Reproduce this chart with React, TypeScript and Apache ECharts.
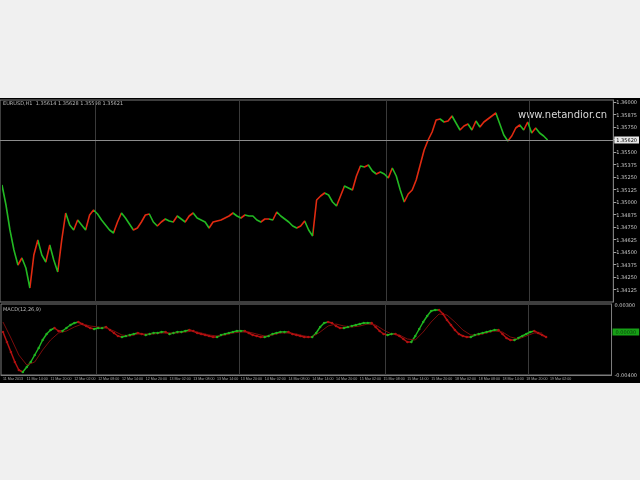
import React, { useEffect, useRef } from "react";
import * as echarts from "echarts";

// ---- price data (closes, one bar every 4px) ----
const closes = [
  1.3517, 1.3497, 1.3472, 1.3452, 1.3437, 1.3444, 1.3434, 1.3414, 1.3447, 1.3462,
  1.3447, 1.344, 1.3457, 1.3442, 1.343, 1.3462, 1.3489, 1.3477, 1.3472, 1.3482,
  1.3477, 1.3472, 1.3487, 1.3492, 1.3488, 1.3482, 1.3477, 1.3472, 1.3469, 1.348,
  1.3489, 1.3484, 1.3478, 1.3472, 1.3474, 1.348, 1.3487, 1.3488, 1.348, 1.3476,
  1.348, 1.3483, 1.3481, 1.348, 1.3486, 1.3483, 1.348, 1.3486, 1.3489, 1.3484,
  1.3482, 1.348, 1.3474, 1.348, 1.3481, 1.3482, 1.3484, 1.3486, 1.3489, 1.3486,
  1.3484, 1.3487, 1.3486, 1.3486, 1.3482, 1.348, 1.3483, 1.3483, 1.3482, 1.349,
  1.3486, 1.3483, 1.348, 1.3476, 1.3474, 1.3476, 1.3481, 1.3472, 1.3466, 1.3502,
  1.3506, 1.3509, 1.3507, 1.35, 1.3496, 1.3506, 1.3516, 1.3514, 1.3512, 1.3526,
  1.3536, 1.3535, 1.3537, 1.3531, 1.3528, 1.353, 1.3528, 1.3524, 1.3534, 1.3526,
  1.3512, 1.35, 1.3508, 1.3512, 1.3522, 1.3537, 1.3552, 1.3562, 1.357, 1.3582,
  1.3583, 1.358, 1.3581, 1.3586, 1.3579, 1.3572, 1.3576, 1.3578, 1.3572, 1.3581,
  1.3575, 1.358, 1.3583, 1.3586, 1.3589, 1.3578, 1.3567, 1.3561, 1.3566, 1.3574,
  1.3577, 1.3572, 1.358, 1.3569, 1.3574, 1.3569, 1.3566, 1.3562,
];

// ---- indicator (main line, one point every 4px; signal, one point every 8px) ----
const macdMain = [
  0.0003, -0.0007, -0.0017, -0.0027, -0.0035, -0.0037, -0.0032, -0.0027, -0.002, -0.0013,
  -0.0005, 0.0001, 0.0005, 0.0007, 0.0004, 0.0004, 0.0007, 0.001, 0.0012, 0.0013,
  0.0011, 0.0009, 0.0007, 0.0006, 0.0007, 0.0007, 0.0008, 0.0005, 0.0002, -0.0001,
  -0.0002, -0.0001, 0.0, 0.0001, 0.0002, 0.0001, 0.0, 0.0001, 0.0002, 0.0002,
  0.0003, 0.0003, 0.0001, 0.0002, 0.0003, 0.0003, 0.0004, 0.0005, 0.0004, 0.0002,
  0.0001, 0.0, -0.0001, -0.0002, -0.0002, 0.0, 0.0001, 0.0002, 0.0003, 0.0004,
  0.0004, 0.0004, 0.0002, 0.0, -0.0001, -0.0002, -0.0002, -0.0001, 0.0001, 0.0002,
  0.0003, 0.0003, 0.0003, 0.0001, 0.0, -0.0001, -0.0002, -0.0002, -0.0002, 0.0002,
  0.0008, 0.0012, 0.0013, 0.0012, 0.0009, 0.0007, 0.0007, 0.0008, 0.0009, 0.001,
  0.0011, 0.0012, 0.0012, 0.0012, 0.0008, 0.0004, 0.0001, 0.0, 0.0001, 0.0001,
  -0.0001, -0.0004, -0.0007, -0.0007, -0.0001, 0.0006, 0.0013, 0.0019, 0.0024, 0.0025,
  0.0025, 0.0021, 0.0015, 0.001, 0.0005, 0.0001, -0.0001, -0.0002, -0.0002, 0.0,
  0.0001, 0.0002, 0.0003, 0.0004, 0.0005, 0.0005, 0.0001, -0.0003, -0.0005, -0.0005,
  -0.0003, -0.0001, 0.0001, 0.0003, 0.0004, 0.0002, 0.0, -0.0002,
];
const macdSignal = [
  0.0013, -0.0003, -0.002, -0.003, -0.0027, -0.0015, -0.0005, 0.0002, 0.0004, 0.0008,
  0.0011, 0.0009, 0.0008, 0.0007, 0.0004, 0.0, -0.0001, 0.0001, 0.0001, 0.0001,
  0.0002, 0.0002, 0.0002, 0.0003, 0.0004, 0.0002, 0.0, -0.0001, 0.0, 0.0002,
  0.0003, 0.0003, 0.0001, -0.0001, 0.0, 0.0002, 0.0002, 0.0001, -0.0001, -0.0002,
  0.0003, 0.0009, 0.0011, 0.0009, 0.0008, 0.0009, 0.0011, 0.001, 0.0005, 0.0001,
  0.0, -0.0004, -0.0005, 0.0003, 0.0013, 0.0021, 0.002, 0.0013, 0.0005, 0.0,
  0.0, 0.0002, 0.0004, 0.0003, -0.0002, -0.0004, -0.0001, 0.0002, 0.0002,
];
const macdLevel = 0.0003;

// ---- axes / texts ----
const timeLabels = [
  "11 Mar 2013", "11 Mar 14:00", "11 Mar 20:00", "12 Mar 02:00", "12 Mar 08:00", "12 Mar 14:00",
  "12 Mar 20:00", "13 Mar 02:00", "13 Mar 08:00", "13 Mar 14:00", "13 Mar 20:00", "14 Mar 02:00",
  "14 Mar 08:00", "14 Mar 14:00", "14 Mar 20:00", "15 Mar 02:00", "15 Mar 08:00", "15 Mar 14:00",
  "15 Mar 20:00", "18 Mar 02:00", "18 Mar 08:00", "18 Mar 14:00", "18 Mar 20:00", "19 Mar 02:00",
];
const dayBreaks = [24, 60, 97, 133];
const TOTAL_BARS = 154;
const priceMin = 1.34;
const priceMax = 1.3602;
const priceStep = 0.00125;
const macdMin = -0.004;
const macdMax = 0.0031;
const macdStep = 0.001;
const headerText = "EURUSD,H1  1.35614 1.35628 1.35598 1.35621";
const indicatorTitle = "MACD(12,26,9)";
const watermark = "www.netandior.cn";

const UP = "#e02a10";
const DOWN = "#22b822";
const IND_UP = "#1fb41f";
const IND_DOWN = "#b01010";

function directionPieces(values: number[], upColor: string, downColor: string) {
  const pieces: any[] = [];
  let runStart = 0;
  let runUp = values[1] > values[0];
  for (let i = 1; i < values.length; i++) {
    const d = values[i] - values[i - 1];
    const up = d > 0 ? true : d < 0 ? false : runUp;
    if (up !== runUp) {
      pieces.push({ gte: runStart, lt: i - 1, color: runUp ? upColor : downColor });
      runStart = i - 1;
      runUp = up;
    }
  }
  pieces.push({ gte: runStart, lte: TOTAL_BARS, color: runUp ? upColor : downColor });
  return pieces;
}

function buildOption() {
  const cats = Array.from({ length: TOTAL_BARS }, (_, i) => String(i));
  const last = closes[closes.length - 1];

  const sig: (number | null)[] = macdMain.map(() => null);
  macdSignal.forEach((v, i) => {
    if (2 * i < sig.length) sig[2 * i] = v;
  });

  const splitFn = (idx: number) => dayBreaks.includes(idx);
  const font = "DejaVu Sans";

  return {
    animation: false,
    backgroundColor: "#f0f0f0",
    textStyle: { fontFamily: font },
    graphic: [
      { type: "rect", z: -100, silent: true, shape: { x: 0, y: 98, width: 640, height: 285 }, style: { fill: "#000" } },
      { type: "text", left: 3, top: 100, style: { text: headerText, fill: "#b8b8b8", fontSize: 5, fontFamily: font } },
      { type: "text", left: 3, top: 306, style: { text: indicatorTitle, fill: "#b8b8b8", fontSize: 5, fontFamily: font } },
      { type: "text", left: 518, top: 109, style: { text: watermark, fill: "#d8d8d8", fontSize: 10, fontFamily: font } },
    ],
    grid: [
      { left: 0, top: 100, width: 616, height: 202, show: true, borderColor: "#7c7c7c", borderWidth: 1, backgroundColor: "transparent" },
      { left: 0, top: 304, width: 616, height: 71, show: true, borderColor: "#7c7c7c", borderWidth: 1, backgroundColor: "transparent" },
    ],
    xAxis: [
      {
        type: "category", gridIndex: 0, data: cats, boundaryGap: true,
        axisLine: { show: false, onZero: false }, axisTick: { show: false }, axisLabel: { show: false },
        splitLine: { show: true, interval: splitFn, lineStyle: { color: "#3a3a3a", width: 1 } },
      },
      {
        type: "category", gridIndex: 1, data: cats, boundaryGap: true,
        axisLine: { show: true, onZero: false, lineStyle: { color: "#7c7c7c" } }, axisTick: { show: false },
        axisLabel: {
          show: true, interval: 5, fontSize: 3.6, fontFamily: "Liberation Sans", color: "#a8a8a8", align: "left", margin: 2,
          formatter: (_v: string, idx: number) => timeLabels[idx / 6] ?? "",
        },
        splitLine: { show: true, interval: splitFn, lineStyle: { color: "#3a3a3a", width: 1 } },
      },
    ],
    yAxis: [
      {
        type: "value", gridIndex: 0, position: "right", min: priceMin, max: priceMax, interval: priceStep,
        axisLine: { show: true, lineStyle: { color: "#7c7c7c" } },
        axisTick: { show: true, length: 3, lineStyle: { color: "#a0a0a0" } },
        axisLabel: {
          fontSize: 5, color: "#c8c8c8", margin: 3, showMinLabel: false,
          formatter: (v: number) => (Math.abs(v - last) < 0.0008 || v <= priceMin + 1e-9 ? "" : v.toFixed(5)),
        },
        splitLine: { show: false },
      },
      {
        type: "value", gridIndex: 1, position: "right", min: macdMin, max: macdMax, interval: macdStep,
        axisLine: { show: true, lineStyle: { color: "#7c7c7c" } },
        axisTick: { show: false },
        axisLabel: {
          fontSize: 5, color: "#c8c8c8", margin: 3,
          formatter: (v: number) => (Math.abs(v - macdMin) < 1e-9 || Math.abs(v - 0.003) < 1e-9 ? v.toFixed(5) : ""),
        },
        splitLine: { show: false },
      },
    ],
    visualMap: [
      { type: "piecewise", show: false, dimension: 0, seriesIndex: 0, pieces: directionPieces(closes, UP, DOWN) },
      { type: "piecewise", show: false, dimension: 0, seriesIndex: 1, pieces: directionPieces(macdMain, IND_UP, IND_DOWN) },
    ],
    series: [
      {
        type: "line", xAxisIndex: 0, yAxisIndex: 0, data: closes, showSymbol: false,
        lineStyle: { width: 1.6 },
        markLine: {
          silent: true, symbol: ["none", "none"], precision: 5,
          data: [{ yAxis: last }],
          lineStyle: { color: "#8c8c8c", width: 1, type: "solid" },
          label: {
            position: "end", distance: 1, fontSize: 5, color: "#000", backgroundColor: "#e8e8e8", padding: [1, 2],
            formatter: (p: any) => Number(p.value).toFixed(5),
          },
        },
      },
      {
        type: "line", xAxisIndex: 1, yAxisIndex: 1, data: macdMain,
        showSymbol: true, symbol: "circle", symbolSize: 2.5,
        lineStyle: { width: 1.5 },
      },
      {
        type: "line", xAxisIndex: 1, yAxisIndex: 1, data: sig, connectNulls: true, showSymbol: false,
        lineStyle: { width: 1, color: "#7a0c0c" }, itemStyle: { color: "#7a0c0c" },
        markLine: {
          silent: true, symbol: ["none", "none"], precision: 5,
          data: [{ yAxis: macdLevel }],
          lineStyle: { color: "transparent", width: 1 },
          label: {
            show: true, position: "end", distance: 1, fontSize: 5, color: "#0b3d0b", backgroundColor: "#16a016", padding: [1, 3],
            formatter: (p: any) => Number(p.value).toFixed(5),
          },
        },
      },
    ],
  };
}

export default function App() {
  const ref = useRef<HTMLDivElement>(null);
  useEffect(() => {
    if (!ref.current) return;
    const chart = echarts.init(ref.current, null, { renderer: "svg" });
    chart.setOption(buildOption() as any);
    return () => chart.dispose();
  }, []);
  return (
    <div
      ref={ref}
      style={{ position: "fixed", left: 0, top: 0, width: 640, height: 480, filter: "blur(0.4px)" }}
    />
  );
}
